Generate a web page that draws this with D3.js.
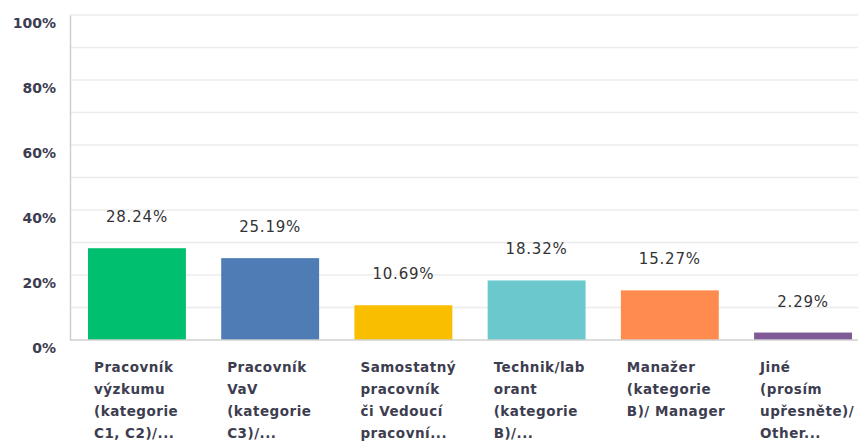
<!DOCTYPE html>
<html><head><meta charset="utf-8">
<script src="https://d3js.org/d3.v7.min.js"></script>
<style>body{margin:0;background:#fff}svg{display:block}</style>
</head><body>
<script>
const categories = [
  ["Pracovník","výzkumu","(kategorie","C1, C2)/..."],
  ["Pracovník","VaV","(kategorie","C3)/..."],
  ["Samostatný","pracovník","či Vedoucí","pracovní..."],
  ["Technik/lab","orant","(kategorie","B)/..."],
  ["Manažer","(kategorie","B)/ Manager"],
  ["Jiné","(prosím","upřesněte)/","Other..."]
];
const values = [28.24, 25.19, 10.69, 18.32, 15.27, 2.29];
const colors = ["#00bf6f","#507cb6","#f9be00","#6bc8cd","#ff8b4f","#7f5a96"];
const yTicks = [0,20,40,60,80,100];
const gridTicks = [10,20,30,40,50,60,70,80,90,100];

const W = 858, H = 444;
const svg = d3.select("body").append("svg").attr("width", W).attr("height", H);
const x0 = 70, yBase = 340, yTop = 15;
const x = d3.scaleBand().domain(d3.range(values.length)).range([x0, 870]).paddingInner(0.265).paddingOuter(0.135);
const y = d3.scaleLinear().domain([0,100]).range([yBase, yTop]);

svg.append("g").selectAll("line").data(gridTicks).join("line")
  .attr("x1", x0).attr("x2", W).attr("y1", d=>y(d)).attr("y2", d=>y(d))
  .attr("stroke", "#ececec").attr("stroke-width", 1.5);

const yAxis = d3.axisLeft(y).tickValues(yTicks).tickSize(0).tickPadding(14).tickFormat(d=>d+"%");
const ya = svg.append("g").attr("transform", `translate(${x0},0)`).call(yAxis);
ya.select(".domain").attr("stroke", "#d0d0d0").attr("stroke-width", 1.5);
ya.selectAll("text").attr("font-family","DejaVu Sans").attr("font-weight","bold")
  .attr("font-size", 14).attr("fill","#3d3d50").attr("dy","0.9em");

svg.append("g").selectAll("rect").data(values).join("rect")
  .attr("x", (d,i)=>x(i)).attr("width", x.bandwidth())
  .attr("y", d=>y(d)).attr("height", d=>yBase - y(d))
  .attr("fill", (d,i)=>colors[i]);

svg.append("line").attr("x1", x0).attr("x2", W).attr("y1", yBase).attr("y2", yBase)
  .attr("stroke", "#d0d0d0").attr("stroke-width", 1.5);

svg.append("g").selectAll("text").data(values).join("text")
  .attr("x", (d,i)=>x(i)+x.bandwidth()/2).attr("y", d=>y(d)-26)
  .attr("text-anchor","middle").attr("font-family","DejaVu Sans").attr("font-size",15)
  .attr("letter-spacing", 0.8).attr("fill","#333").text(d=>d.toFixed(2)+"%");

const cat = svg.append("g").selectAll("text").data(categories).join("text")
  .attr("x", (d,i)=>x(i)+6).attr("y", 372)
  .attr("font-family","DejaVu Sans").attr("font-weight","bold").attr("font-size",13.5)
  .attr("letter-spacing", 0.5).attr("fill","#3d3d50");
cat.selectAll("tspan").data(d=>d).join("tspan")
  .attr("x", function(){return this.parentNode.getAttribute("x");})
  .attr("dy", (d,i)=> i===0 ? 0 : 22).text(d=>d);
</script>
</body></html>
